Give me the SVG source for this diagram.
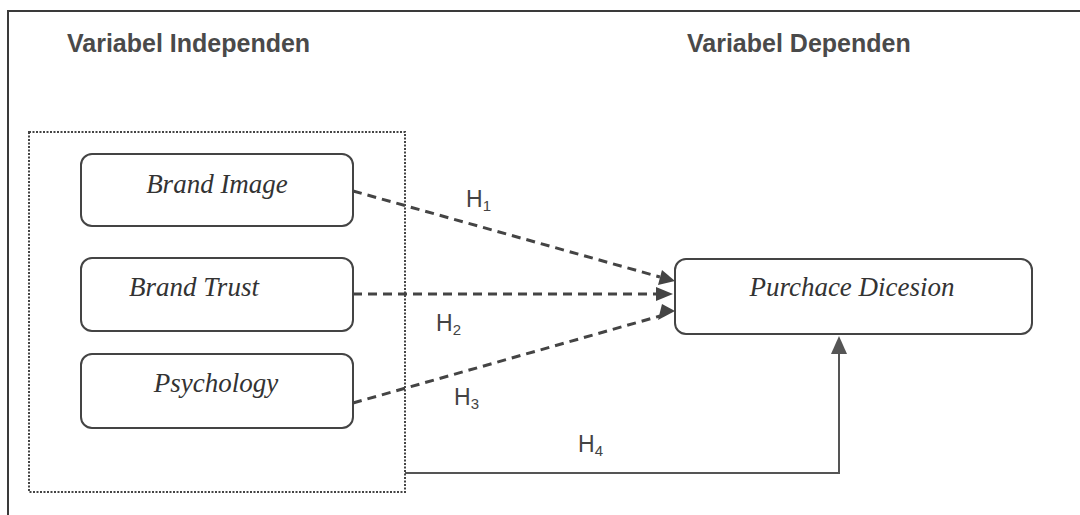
<svg xmlns="http://www.w3.org/2000/svg" width="1080" height="515" viewBox="0 0 1080 515">
<defs>
<style>
.frame{fill:none;stroke:#3a3a3a;stroke-width:2}
.group{fill:none;stroke:#444;stroke-width:2;stroke-dasharray:2 1.5}
.node{fill:#fff;stroke:#444;stroke-width:2}
.lbl{font-family:"Liberation Serif","Times New Roman",serif;font-style:italic;font-size:27px;fill:#333}
.head{font-family:"Liberation Sans",Arial,sans-serif;font-weight:bold;font-size:25px;fill:#4a4a4a}
.h{font-family:"Liberation Sans",Arial,sans-serif;font-size:23px;fill:#444}
.sub{font-size:15px}
.dash{fill:none;stroke:#444;stroke-width:3;stroke-dasharray:9 6}
.solid{fill:none;stroke:#555;stroke-width:2}
</style>
</defs>
<rect width="1080" height="515" fill="#fff"/>
<path class="frame" d="M8,515 V11 H1080"/>
<text class="head" x="67" y="52">Variabel Independen</text>
<text class="head" x="687" y="52">Variabel Dependen</text>
<rect id="group-independen" class="group" x="29" y="132" width="376" height="360"/>
<g id="connectors">
<line class="dash" x1="353" y1="191" x2="660" y2="277"/>
<path d="M675,281 L658,285 L662,270 z" fill="#444"/>
<line class="dash" x1="353" y1="294" x2="658" y2="294"/>
<path d="M673,294 L656,287 L656,301 z" fill="#444"/>
<line class="dash" x1="353" y1="403" x2="660" y2="316"/>
<path d="M675,311 L662,304 L658,320 z" fill="#444"/>
<path class="solid" d="M405,473 H839 V352"/>
<path d="M839,336 L831,354 L847,354 z" fill="#555"/>
</g>
<g id="brand-image">
<rect class="node" x="81" y="154" width="272" height="72" rx="11"/>
<text class="lbl" x="217" y="193" text-anchor="middle">Brand Image</text>
</g>
<g id="brand-trust">
<rect class="node" x="81" y="258" width="272" height="73" rx="11"/>
<text class="lbl" x="194" y="296" text-anchor="middle">Brand Trust</text>
</g>
<g id="psychology">
<rect class="node" x="81" y="354" width="272" height="74" rx="11"/>
<text class="lbl" x="216" y="392" text-anchor="middle">Psychology</text>
</g>
<g id="purchace-dicesion">
<rect class="node" x="675" y="259" width="357" height="75" rx="11"/>
<text class="lbl" x="852" y="296" text-anchor="middle">Purchace Dicesion</text>
</g>
<g id="labels">
<text class="h" x="466" y="207">H<tspan class="sub" dy="4">1</tspan></text>
<text class="h" x="436" y="331">H<tspan class="sub" dy="4">2</tspan></text>
<text class="h" x="454" y="405">H<tspan class="sub" dy="4">3</tspan></text>
<text class="h" x="578" y="452">H<tspan class="sub" dy="4">4</tspan></text>
</g>
</svg>
